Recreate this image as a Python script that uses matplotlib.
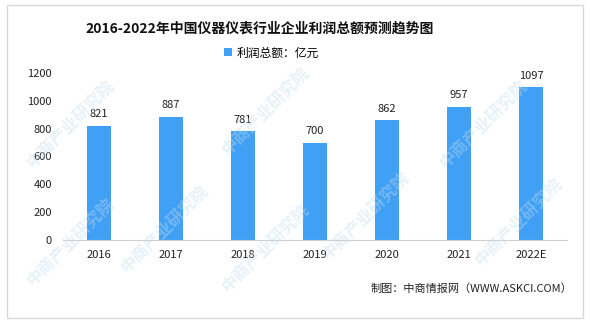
import matplotlib
matplotlib.use('Agg')
import matplotlib.pyplot as plt
from matplotlib.patches import Rectangle

plt.rcParams['font.family'] = ['Noto Sans CJK SC', 'DejaVu Sans']

# 利润总额（亿元）
years = ['2016', '2017', '2018', '2019', '2020', '2021', '2022E']
profit = [821, 887, 781, 700, 862, 957, 1097]
yticks = [0, 200, 400, 600, 800, 1000, 1200]

fig = plt.figure(figsize=(5.9, 3.27), dpi=100)
ax = fig.add_axes([0.1068, 0.266, 0.8542, 0.511])

# 水印
for x, y in [(0.12, 0.62), (0.45, 0.66), (0.82, 0.62), (0.28, 0.3), (0.62, 0.34),
             (0.12, 0.26), (0.88, 0.32), (0.45, 0.24)]:
    fig.text(x, y, '中商产业研究院', fontsize=12, color='#c4dcef', alpha=0.4,
             rotation=45, ha='center', va='center', fontweight='bold', zorder=0)

xs = range(len(years))
bars = ax.bar(xs, profit, width=0.32, color='#3fa0f5', label='利润总额：亿元', zorder=2)
for x, v in zip(xs, profit):
    ax.text(x, v + 45, str(v), ha='center', va='bottom', fontsize=8, color='#222222')

ax.set_xlim(-0.5, len(years) - 0.5)
ax.set_ylim(0, 1200)
ax.set_yticks(yticks)
ax.set_xticks(list(xs))
ax.set_xticklabels(years)
ax.tick_params(axis='both', length=0, labelsize=8, colors='#222222')
ax.tick_params(axis='x', pad=7)
ax.tick_params(axis='y', pad=8)
for s in ['top', 'right', 'left']:
    ax.spines[s].set_visible(False)
ax.spines['bottom'].set_color('#d0d0d0')
ax.patch.set_alpha(0)

fig.text(0.44, 0.912, '2016-2022年中国仪器仪表行业企业利润总额预测趋势图',
         ha='center', va='center', fontsize=10, fontweight='bold', color='#111111')
fig.legend(handles=[bars], loc='center', bbox_to_anchor=(0.46, 0.838), frameon=False,
           fontsize=8.5, handlelength=0.7, handleheight=0.7, handletextpad=0.4)
fig.text(0.97, 0.116, '制图：中商情报网（WWW.ASKCI.COM）', ha='right', va='center',
         fontsize=8, color='#222222')

# 外边框
fig.add_artist(Rectangle((7 / 590, 1 - 318 / 327), 576 / 590, 313 / 327,
                         transform=fig.transFigure, fill=False, edgecolor='#d8d8d8', lw=1))

fig.savefig('out.png', dpi=100)
